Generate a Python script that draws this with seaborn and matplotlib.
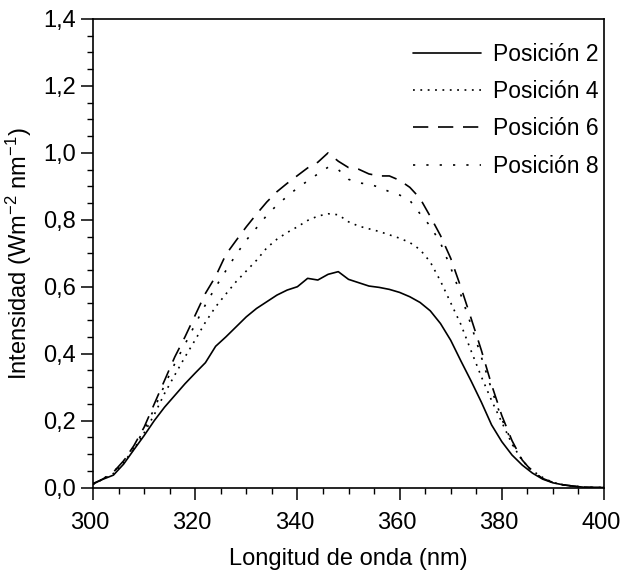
import numpy as np
import pandas as pd
import seaborn as sns
import matplotlib.pyplot as plt
from matplotlib.ticker import MultipleLocator, FuncFormatter
from matplotlib.transforms import ScaledTranslation

# longitud de onda (nm)
wavelength = list(range(300, 401, 2))

pos2 = [0.012, 0.025, 0.037, 0.07, 0.113, 0.155, 0.20, 0.24, 0.275, 0.31,
        0.342, 0.373, 0.422, 0.45, 0.48, 0.51, 0.535, 0.555, 0.575, 0.59,
        0.60, 0.625, 0.62, 0.637, 0.645, 0.622, 0.612, 0.602, 0.598, 0.592,
        0.583, 0.57, 0.553, 0.528, 0.49, 0.44, 0.378, 0.318, 0.255, 0.187,
        0.137, 0.097, 0.067, 0.043, 0.025, 0.014, 0.008, 0.004, 0.001, 0.0, 0.0]
pos4 = [0.01, 0.025, 0.042, 0.075, 0.115, 0.163, 0.218, 0.281, 0.336, 0.39,
        0.441, 0.494, 0.54, 0.578, 0.615, 0.647, 0.679, 0.716, 0.742, 0.762,
        0.779, 0.798, 0.811, 0.818, 0.815, 0.794, 0.781, 0.773, 0.765, 0.755,
        0.745, 0.732, 0.711, 0.674, 0.617, 0.552, 0.487, 0.408, 0.331, 0.26,
        0.195, 0.13, 0.08, 0.05, 0.03, 0.015, 0.008, 0.004, 0.001, 0.0, 0.0]
pos6 = [0.01, 0.026, 0.046, 0.08, 0.125, 0.18, 0.25, 0.32, 0.39, 0.45,
        0.515, 0.58, 0.631, 0.696, 0.738, 0.779, 0.817, 0.853, 0.884, 0.909,
        0.932, 0.955, 0.972, 1.0, 0.975, 0.956, 0.951, 0.937, 0.931, 0.931,
        0.918, 0.897, 0.864, 0.81, 0.753, 0.685, 0.598, 0.505, 0.41, 0.307,
        0.215, 0.14, 0.082, 0.047, 0.027, 0.015, 0.008, 0.004, 0.001, 0.0, 0.0]
pos8 = [0.01, 0.026, 0.046, 0.08, 0.12, 0.172, 0.236, 0.306, 0.37, 0.428,
        0.488, 0.546, 0.599, 0.648, 0.696, 0.739, 0.776, 0.813, 0.844, 0.87,
        0.895, 0.916, 0.937, 0.957, 0.95, 0.921, 0.91, 0.907, 0.897, 0.884,
        0.874, 0.858, 0.818, 0.781, 0.731, 0.657, 0.575, 0.485, 0.39, 0.293,
        0.205, 0.134, 0.082, 0.047, 0.027, 0.015, 0.008, 0.004, 0.001, 0.0, 0.0]

labels = ['Posición 2', 'Posición 4', 'Posición 6', 'Posición 8']

df = pd.concat([
    pd.DataFrame({'wl': wavelength, 'I': vals, 'pos': name})
    for name, vals in zip(labels, [pos2, pos4, pos6, pos8])
])

sns.set_style('ticks')
plt.rcParams['font.family'] = ['Liberation Sans', 'DejaVu Sans']
plt.rcParams['mathtext.default'] = 'regular'
plt.rcParams['lines.scale_dashes'] = False
plt.rcParams['text.color'] = 'black'
plt.rcParams['axes.labelcolor'] = 'black'
plt.rcParams['xtick.color'] = 'black'
plt.rcParams['ytick.color'] = 'black'

fig = plt.figure(figsize=(6.2, 5.77), dpi=100)
ax = fig.add_axes([93 / 620, 1 - 487.5 / 577, (604 - 93) / 620, (487.5 - 19) / 577])

estilos = {'Posición 2': '', 'Posición 4': (1.3, 4.0),
           'Posición 6': (11, 7), 'Posición 8': (1.6, 8.0)}
sns.lineplot(data=df, x='wl', y='I', style='pos', style_order=labels,
             dashes=estilos, color='black', linewidth=1.2, legend=False, ax=ax)

ax.set_xlim(300, 400)
ax.set_ylim(0, 1.4)
ax.xaxis.set_major_locator(MultipleLocator(20))
ax.xaxis.set_minor_locator(MultipleLocator(5))
ax.yaxis.set_major_locator(MultipleLocator(0.2))
ax.yaxis.set_minor_locator(MultipleLocator(0.05))
ax.yaxis.set_major_formatter(FuncFormatter(lambda v, p: f'{v:.1f}'.replace('.', ',')))
ax.tick_params(which='major', length=8.5, width=1.1, labelsize=17)
ax.tick_params(which='minor', length=4.3, width=1.0)
ax.tick_params(axis='x', which='major', pad=9)
ax.tick_params(axis='y', which='major', pad=4)
for s in ax.spines.values():
    s.set_linewidth(1.2)
    s.set_color('black')

ax.set_xlabel('Longitud de onda (nm)', fontsize=17, labelpad=10)
ax.set_ylabel('Intensidad (Wm$^{-2}$ nm$^{-1}$)', fontsize=17, labelpad=6)

ax.legend(ax.lines, labels, frameon=False, loc='upper left',
          bbox_to_anchor=(413 / 620, 1 - 43 / 577), bbox_transform=fig.transFigure,
          borderpad=0, borderaxespad=0, handlelength=2.97, handletextpad=0.52,
          labelspacing=0.62, fontsize=16.5)

# las etiquetas del eje x van un poco a la izquierda, como en el original
fig.canvas.draw()
desplaza = ScaledTranslation(-3 / 100, 0, fig.dpi_scale_trans)
for lbl in ax.get_xticklabels():
    lbl.set_transform(lbl.get_transform() + desplaza)

fig.savefig('out.png', dpi=100)
